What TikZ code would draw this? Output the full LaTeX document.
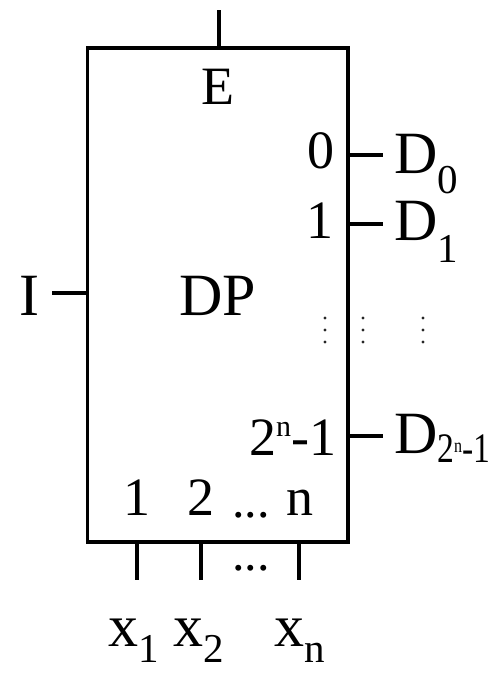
\documentclass[tikz,border=0pt]{standalone}
\usepackage{fontspec}
\setmainfont{Liberation Serif}
\newcommand\fbig{\fontsize{60}{60}\selectfont}
\newcommand\fmid{\fontsize{54}{54}\selectfont}
\newcommand\fsub{\fontsize{41}{41}\selectfont}
\begin{document}
\begin{tikzpicture}[x=1pt,y=-1pt,
  wire/.style={line width=3.8pt},
  lbl/.style={inner sep=0pt,outer sep=0pt,anchor=base},
  dotc/.style={fill=black!85}]
\useasboundingbox (0,0) rectangle (495,673);
% main block
\node[draw,line width=3.8pt,minimum width=260.5pt,minimum height=494pt,inner sep=0pt] (box) at (217.75,295) {};
% inside labels
\node[lbl,font=\fmid] (E) at (218,104) {E};
\node[lbl,font=\fbig] (DP) at (217.5,315) {DP};
\node[lbl,font=\fmid] (o0) at (321,168) {0};
\node[lbl,font=\fmid] (o1) at (320,238) {1};
\node[lbl,font=\fmid,anchor=base east] (on) at (336,455) {2\raisebox{19pt}{\fontsize{30}{30}\selectfont n}-1};
\node[lbl,font=\fmid] (s1) at (137,515) {1};
\node[lbl,font=\fmid] (s2) at (201,515) {2};
\node[lbl,font=\fontsize{50}{50}\selectfont] (sd) at (251,517) {...};
\node[lbl,font=\fmid] (sn) at (300,515) {n};
% outside labels
\node[lbl,font=\fbig] (I) at (29,315) {I};
\node[lbl,font=\fbig,anchor=base west] (D0) at (394,173) {D\raisebox{-20pt}{\fsub 0}};
\node[lbl,font=\fbig,anchor=base west] (D1) at (394,240) {D\raisebox{-22pt}{\fsub 1}};
\node[lbl,font=\fbig,anchor=base west] (Dn) at (394,453) {D\raisebox{-9pt}{\scalebox{0.8}[1]{\fontsize{42}{42}\selectfont 2\raisebox{10pt}{\fontsize{20}{20}\selectfont n}-1}}};
\node[lbl,font=\fbig] (x1) at (134,646) {x\raisebox{-16pt}{\fsub 1}};
\node[lbl,font=\fbig] (x2) at (199,646) {x\raisebox{-16pt}{\fsub 2}};
\node[lbl,font=\fbig] (xn) at (300,646) {x\raisebox{-16pt}{\fsub n}};
\node[lbl,font=\fontsize{50}{50}\selectfont] (bd) at (251,570) {...};
% wire end points
\coordinate (etop) at (219,10);
\coordinate (iend) at (52,293);
\coordinate (d0end) at (383,155);
\coordinate (d1end) at (383,224);
\coordinate (dnend) at (383,436);
\coordinate (x1end) at (137,580);
\coordinate (x2end) at (201,580);
\coordinate (xnend) at (299,580);
% wires
\draw[wire] (etop) -- (etop |- box.north);
\draw[wire] (iend) -- (iend -| box.west);
\draw[wire] (d0end -| box.east) -- (d0end);
\draw[wire] (d1end -| box.east) -- (d1end);
\draw[wire] (dnend -| box.east) -- (dnend);
\draw[wire] (x1end |- box.south) -- (x1end);
\draw[wire] (x2end |- box.south) -- (x2end);
\draw[wire] (xnend |- box.south) -- (xnend);
% vertical dots
\foreach \xx in {325,363,423}
  \foreach \yy in {318,330,342}
    \fill[dotc] (\xx,\yy) circle (1.6pt);
\end{tikzpicture}
\end{document}
